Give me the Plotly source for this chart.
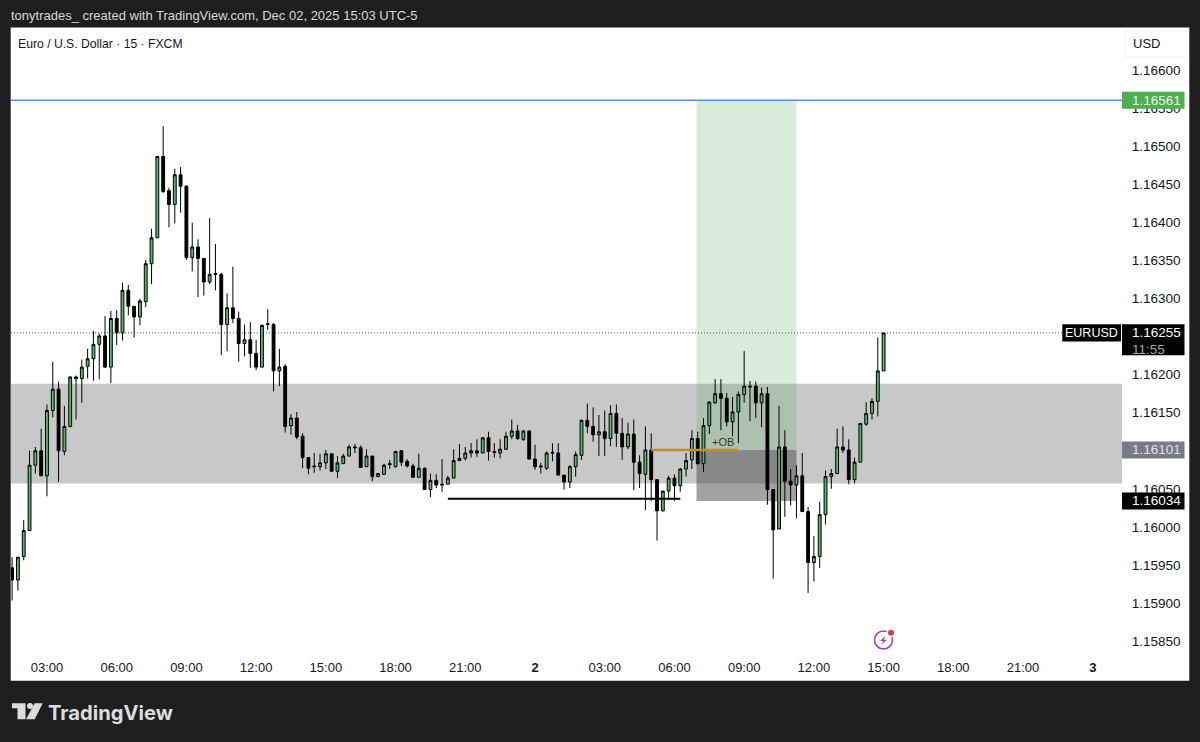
import pandas as pd
import plotly.graph_objects as go

# Prices in points of 0.00001 (EUR/USD, 15 minute candles)
START = "2025-12-01 01:30"
open_pts = [
115946,115930,115961,115995,116081,116100,116067,116153,116181,116099,
116132,116197,116195,116211,116221,116240,116251,116210,116274,116255,
116311,116290,116276,116296,116346,116380,116487,116442,116424,116463,
116448,116354,116368,116353,116322,116333,116332,116266,116288,116274,
116241,116246,116228,116210,116267,116266,116205,116211,116133,116143,
116119,116091,116080,116079,116084,116096,116073,116083,116093,116105,
116104,116079,116093,116066,116069,116083,116079,116100,116086,116080,
116065,116077,116049,116061,116056,116056,116064,116087,116090,116097,
116100,116097,116117,116099,116097,116102,116119,116126,116115,116126,
116089,116080,116077,116098,116097,116068,116059,116079,116094,116140,
116132,116121,116125,116116,116149,116123,116105,116122,116085,116069,
116101,116062,116021,116047,116064,116054,116076,116088,116116,116083,
116133,116163,116175,116169,116138,116151,116174,116185,116185,116163,
116175,116049,115997,116105,116060,116055,116067,116020,115953,115961,
116016,116066,116070,116105,116101,116062,116085,116135,116149,116165,
116205]
high_pts = [
115960,115960,116009,116100,116105,116129,116161,116217,116191,116159,
116198,116199,116220,116234,116258,116254,116277,116284,116285,116321,
116318,116290,116300,116351,116392,116487,116527,116446,116471,116473,
116449,116400,116378,116353,116406,116372,116334,116307,116342,116283,
116266,116269,116246,116266,116286,116268,116234,116214,116148,116151,
116123,116091,116097,116096,116101,116096,116093,116096,116108,116109,
116107,116102,116093,116070,116083,116088,116100,116101,116089,116083,
116096,116078,116070,116069,116089,116067,116102,116109,116105,116110,
116115,116118,116125,116110,116115,116125,116141,116134,116127,116126,
116108,116084,116099,116110,116110,116068,116081,116099,116141,116162,
116157,116147,116153,116160,116161,116143,116137,116141,116094,116132,
116123,116062,116047,116067,116069,116077,116097,116127,116125,116143,
116165,116194,116194,116176,116171,116178,116231,116192,116191,116183,
116184,116049,116159,116127,116076,116081,116097,116026,115988,116033,
116074,116076,116129,116132,116115,116091,116136,116164,116169,116249,
116255]
low_pts = [
115903,115916,115956,115995,116070,116067,116040,116144,116059,116094,
116131,116141,116163,116195,116192,116194,116209,116189,116239,116245,
116278,116249,116265,116289,116319,116380,116439,116394,116399,116413,
116351,116336,116302,116304,116319,116311,116226,116231,116268,116217,
116224,116209,116206,116210,116259,116178,116185,116124,116121,116115,
116077,116069,116071,116074,116076,116073,116064,116083,116093,116097,
116078,116079,116060,116066,116068,116076,116078,116080,116078,116065,
116065,116049,116039,116051,116046,116056,116064,116087,116087,116091,
116092,116097,116087,116091,116090,116101,116115,116114,116113,116089,
116075,116070,116075,116086,116068,116049,116051,116066,116088,116123,
116112,116093,116093,116106,116105,116088,116102,116048,116051,116022,
116034,115982,116020,116035,116034,116046,116066,116076,116082,116072,
116122,116162,116127,116132,116119,116110,116163,116139,116143,116131,
116029,115932,115997,116013,116028,116011,116020,115913,115928,115946,
116003,116050,116070,116097,116056,116057,116085,116133,116141,116145,
116205]
close_pts = [
115930,115960,115995,116081,116100,116067,116153,116181,116100,116132,
116197,116195,116210,116221,116240,116251,116210,116274,116255,116311,
116290,116276,116297,116346,116380,116487,116441,116424,116463,116448,
116354,116368,116353,116322,116332,116332,116266,116288,116274,116241,
116246,116228,116210,116265,116266,116205,116210,116132,116143,116118,
116091,116077,116079,116084,116096,116073,116084,116093,116105,116104,
116078,116093,116066,116070,116081,116082,116099,116085,116080,116065,
116077,116049,116061,116055,116055,116064,116087,116090,116097,116100,
116097,116117,116099,116098,116102,116119,116126,116116,116126,116089,
116079,116079,116097,116097,116068,116059,116079,116095,116140,116132,
116121,116125,116116,116149,116123,116105,116122,116085,116070,116101,
116062,116021,116047,116064,116054,116076,116087,116116,116083,116133,
116164,116175,116169,116138,116151,116174,116185,116184,116163,116175,
116049,115996,116105,116060,116055,116067,116020,115953,115961,116016,
116066,116070,116105,116101,116062,116085,116136,116149,116165,116205,
116255]

price_ticks = [1.15850, 1.15900, 1.15950, 1.16000, 1.16050, 1.16150, 1.16200,
               1.16300, 1.16350, 1.16400, 1.16450, 1.16500, 1.16550, 1.16600]
time_ticks = ["2025-12-01 03:00", "2025-12-01 06:00", "2025-12-01 09:00", "2025-12-01 12:00",
              "2025-12-01 15:00", "2025-12-01 18:00", "2025-12-01 21:00", "2025-12-02 00:00",
              "2025-12-02 03:00", "2025-12-02 06:00", "2025-12-02 09:00", "2025-12-02 12:00",
              "2025-12-02 15:00", "2025-12-02 18:00", "2025-12-02 21:00", "2025-12-03 00:00"]
time_labels = ["03:00", "06:00", "09:00", "12:00", "15:00", "18:00", "21:00", "<b>2</b>",
               "03:00", "06:00", "09:00", "12:00", "15:00", "18:00", "21:00", "<b>3</b>"]

TARGET = 1.16561
ENTRY = 1.16101
STOP = 1.16034
LAST = 1.16255
BAND_TOP = 1.16188
BAND_BOTTOM = 1.16057
ORANGE_SPAN = ["2025-12-02 05:00", "2025-12-02 08:45"]
BLACK_SPAN = ["2025-12-01 20:15", "2025-12-02 06:15"]
BLACK_LEVEL = 1.16037
BOX_SPAN = ["2025-12-02 06:57", "2025-12-02 11:15"]

FONT = "Liberation Sans"
W, H = 1200, 742
L, R, T, B = 11, 1122, 28, 653
DARK = "#1e1e1e"
INK = "#131722"


def px(x):
    return (x - L) / (R - L)


def py(y):
    return (B - y) / (B - T)


def rect(x0, y0, x1, y1, fill, line=None, layer="above"):
    return dict(type="rect", xref="paper", yref="paper", x0=px(x0), x1=px(x1), y0=py(y0), y1=py(y1),
                fillcolor=fill, line=dict(color=line or fill, width=1 if line else 0), layer=layer)


def poly(points, fill):
    path = "M " + " L ".join(f"{px(a):.5f},{py(b):.5f}" for a, b in points) + " Z"
    return dict(type="path", xref="paper", yref="paper", path=path, fillcolor=fill, line=dict(width=0), layer="above")


def price_tag(level, fill, half=8.5):
    return dict(type="rect", xref="paper", yref="y", xsizemode="pixel", ysizemode="pixel",
                xanchor=1, yanchor=level, x0=0, x1=62.5, y0=-half, y1=half,
                fillcolor=fill, line=dict(width=0), layer="above")


def tag_text(level, text, color="#ffffff"):
    return dict(xref="paper", yref="y", x=1, y=level, xshift=7.5, xanchor="left", yanchor="middle",
                text=text, showarrow=False, font=dict(family=FONT, size=13.5, color=color))


times = pd.date_range(START, periods=len(open_pts), freq="15min")
scale = 100000.0

fig = go.Figure()
fig.add_trace(go.Scatter(x=ORANGE_SPAN, y=[ENTRY, ENTRY], mode="lines",
                         line=dict(color="#c98a2b", width=2.5), hoverinfo="skip"))
fig.add_trace(go.Scatter(x=BLACK_SPAN, y=[BLACK_LEVEL, BLACK_LEVEL], mode="lines",
                         line=dict(color="#000000", width=2), hoverinfo="skip"))
fig.add_trace(go.Candlestick(
    x=times,
    open=[v / scale for v in open_pts],
    high=[v / scale for v in high_pts],
    low=[v / scale for v in low_pts],
    close=[v / scale for v in close_pts],
    increasing=dict(line=dict(color="#000000", width=1), fillcolor="#5cb56f"),
    decreasing=dict(line=dict(color="#000000", width=1), fillcolor="#000000"),
    hoverinfo="skip",
))

shapes = [
    rect(10.7, 27.5, 1189.3, 680.7, "#ffffff", layer="below"),
    dict(type="rect", xref="paper", yref="y", x0=0, x1=1, y0=BAND_BOTTOM, y1=BAND_TOP,
         fillcolor="#c8c8c8", line=dict(width=0), layer="below"),
    dict(type="rect", xref="x", yref="y", x0=BOX_SPAN[0], x1=BOX_SPAN[1], y0=ENTRY, y1=TARGET,
         fillcolor="rgba(76,175,80,0.22)", line=dict(width=0), layer="below"),
    dict(type="rect", xref="x", yref="y", x0=BOX_SPAN[0], x1=BOX_SPAN[1], y0=STOP, y1=ENTRY,
         fillcolor="rgba(70,70,70,0.5)", line=dict(width=0), layer="below"),
    dict(type="line", xref="paper", yref="y", x0=0, x1=1, y0=TARGET, y1=TARGET,
         line=dict(color="#5b8def", width=1.5), layer="below"),
    dict(type="line", xref="paper", yref="y", x0=0, x1=px(1062), y0=LAST, y1=LAST,
         line=dict(color="#444444", width=1, dash="1px,2px"), layer="below"),
    # price scale tags
    dict(type="rect", xref="paper", yref="paper", x0=px(1125), x1=px(1186), y0=py(31), y1=py(57),
         fillcolor="rgba(0,0,0,0)", line=dict(color="#f2f2f2", width=1), layer="above"),
    price_tag(TARGET, "#4caf50"),
    price_tag(1.16246, "#000000", half=15.4),
    price_tag(ENTRY, "#787b86"),
    price_tag(STOP, "#000000"),
    rect(1062.3, 324.3, 1121, 341.5, "#000000"),
    # TradingView logo
    poly([(12, 703.3), (25.5, 703.3), (25.5, 719.3), (17.5, 719.3), (17.5, 708.3), (12, 708.3)], "#dcdcdc"),
    dict(type="circle", xref="paper", yref="paper", x0=px(27), x1=px(33), y0=py(703), y1=py(709),
         fillcolor="#dcdcdc", line=dict(width=0), layer="above"),
    poly([(34.7, 703.3), (42.7, 703.3), (34.7, 719.3), (26, 719.3)], "#dcdcdc"),
    # lightning badge
    dict(type="circle", xref="paper", yref="paper", x0=px(874.5), x1=px(892.5), y0=py(631), y1=py(649),
         fillcolor="rgba(0,0,0,0)", line=dict(color="#9c3fbf", width=1.5), layer="above"),
    poly([(885.5, 636), (880, 641), (883.5, 641), (881, 645), (887, 639.7), (883.7, 639.7)], "#9c3fbf"),
    dict(type="circle", xref="paper", yref="paper", x0=px(886.5), x1=px(895.5), y0=py(628), y1=py(637),
         fillcolor="#ffffff", line=dict(width=0), layer="above"),
    dict(type="circle", xref="paper", yref="paper", x0=px(888), x1=px(894), y0=py(629.7), y1=py(635.7),
         fillcolor="#e53935", line=dict(width=0), layer="above"),
]

annotations = [
    dict(xref="paper", yref="paper", x=px(8.5), y=py(16), xanchor="left", yanchor="middle", showarrow=False,
         text="tonytrades_ created with TradingView.com, Dec 02, 2025 15:03 UTC-5",
         font=dict(family=FONT, size=13, color="#d8d8d8")),
    dict(xref="paper", yref="paper", x=px(16), y=py(43.5), xanchor="left", yanchor="middle", showarrow=False,
         text="Euro / U.S. Dollar · 15 · FXCM", font=dict(family=FONT, size=12.2, color=INK)),
    dict(xref="paper", yref="paper", x=px(1146.5), y=py(44), xanchor="center", yanchor="middle", showarrow=False,
         text="USD", font=dict(family=FONT, size=13, color=INK)),
    dict(xref="paper", yref="paper", x=px(46), y=py(712), xanchor="left", yanchor="middle", showarrow=False,
         text="<b>TradingView</b>", font=dict(family="Inter", size=20.2, color="#dcdcdc")),
    dict(xref="x", yref="y", x="2025-12-02 08:05", y=1.16111, xanchor="center", yanchor="middle", showarrow=False,
         text="+OB", font=dict(family=FONT, size=11, color="#2f3a30")),
    dict(xref="paper", yref="y", x=px(1091.7), y=LAST, xanchor="center", yanchor="middle", showarrow=False,
         text="EURUSD", font=dict(family=FONT, size=12.5, color="#ffffff")),
    tag_text(TARGET, "1.16561", "#e8f5e9"),
    tag_text(LAST, "1.16255"),
    tag_text(1.16233, "11:55", "#a8a8a8"),
    tag_text(ENTRY, "1.16101", "#e0e0e0"),
    tag_text(STOP, "1.16034"),
]

fig.update_layout(
    width=W, height=H, autosize=False,
    margin=dict(l=L, r=W - R, t=T, b=H - B, pad=0),
    paper_bgcolor=DARK, plot_bgcolor="#ffffff",
    showlegend=False, hovermode=False, dragmode=False,
    font=dict(family=FONT, size=13, color=INK),
    shapes=shapes, annotations=annotations,
    xaxis=dict(
        range=["2025-12-01 01:27:09", "2025-12-03 01:15:27"], rangeslider=dict(visible=False),
        tickmode="array", tickvals=time_ticks, ticktext=time_labels,
        showgrid=False, zeroline=False, showline=False,
        ticks="outside", ticklen=2, tickcolor="rgba(0,0,0,0)",
        tickfont=dict(family=FONT, size=13, color=INK), tickangle=0, fixedrange=True,
    ),
    yaxis=dict(
        range=[1.15834, 1.16656], side="right",
        tickmode="array", tickvals=price_ticks, tickformat=".5f",
        showgrid=False, zeroline=False, showline=False,
        ticks="outside", ticklen=6, tickcolor="rgba(0,0,0,0)",
        tickfont=dict(family=FONT, size=13.5, color=INK), fixedrange=True,
    ),
)

fig.write_html(
    "out.html",
    config={"displayModeBar": False},
    post_script="document.body.style.margin='0';document.body.style.overflow='hidden';",
)
